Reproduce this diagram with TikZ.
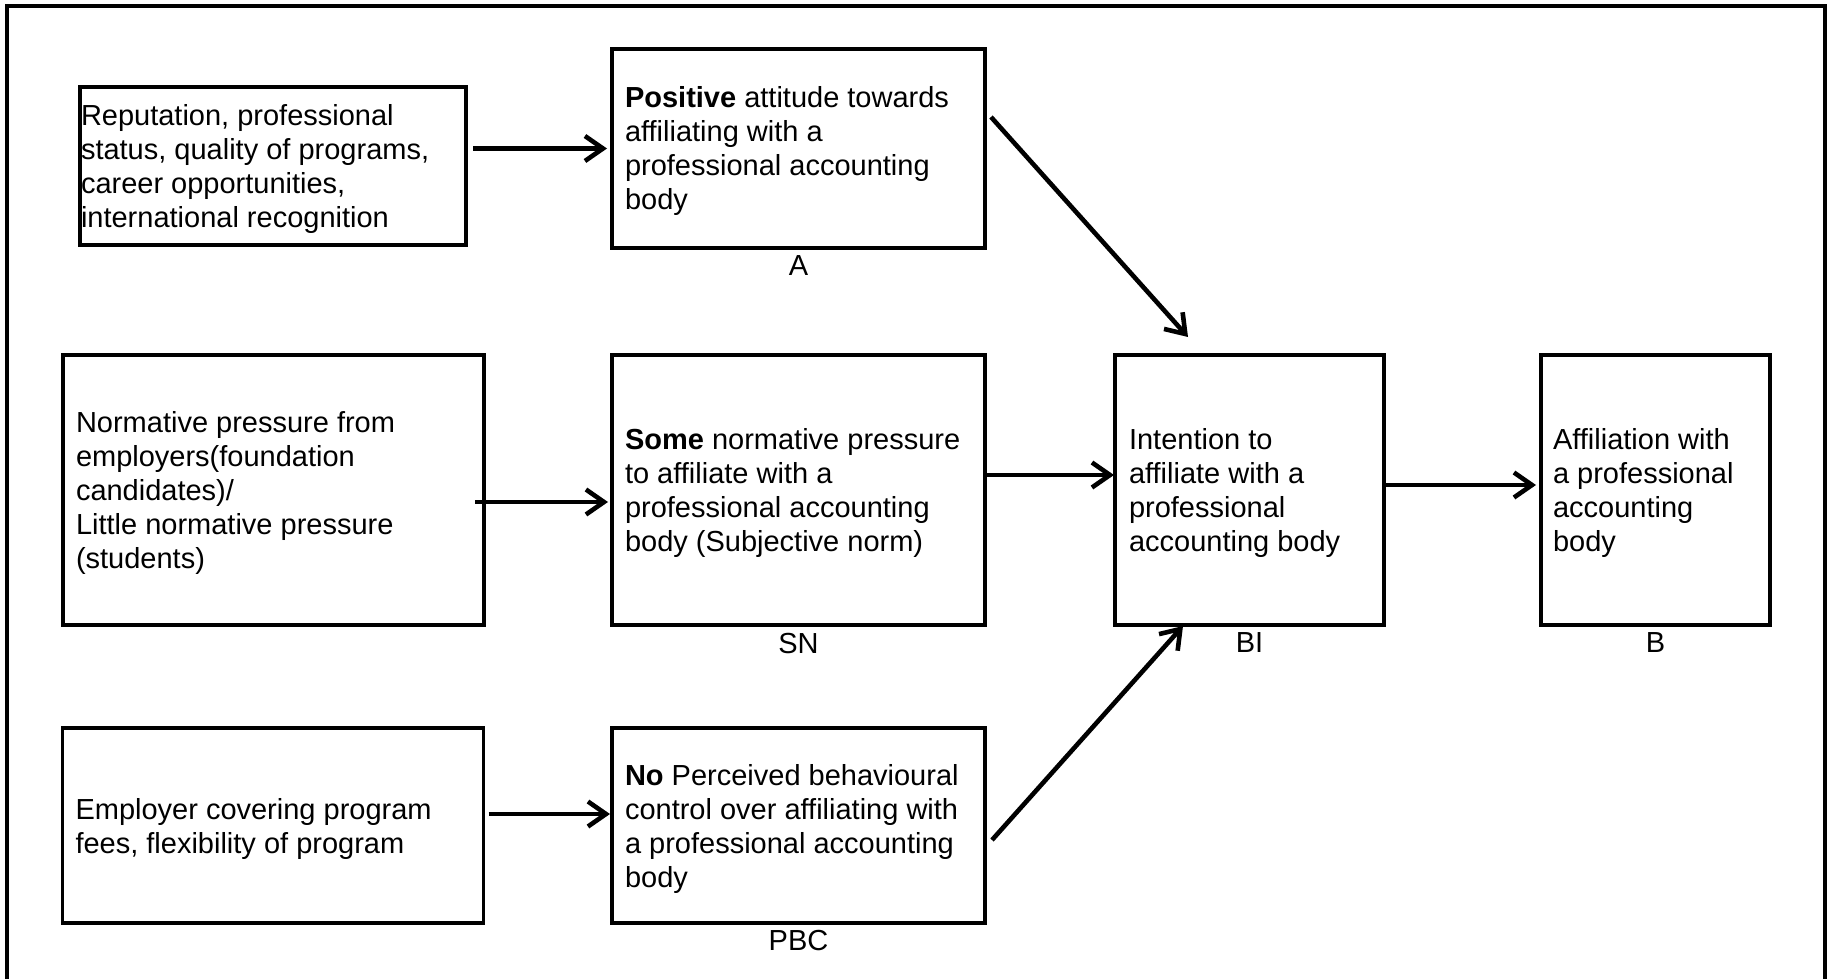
\documentclass[tikz,border=0pt]{standalone}
\usepackage{fontspec}
\setmainfont{Liberation Sans}
\usetikzlibrary{arrows.meta}
\begin{document}
\begin{tikzpicture}[x=1pt, y=-1pt,
  box/.style n args={2}{draw, line width=3.5pt, inner sep=0pt, outer sep=0pt,
    minimum width=#1pt, minimum height=#2pt},
  txt/.style={inner sep=0pt, outer sep=0pt, align=left,
    font=\fontsize{29pt}{34pt}\selectfont},
  lab/.style={inner sep=0pt, font=\fontsize{29pt}{34pt}\selectfont},
  arr/.style={line width=4.6pt, -{Straight Barb[length=18pt, width=25pt]}}]
\useasboundingbox (0,0) rectangle (1828,979);

% outer frame
\draw[line width=3.2pt] (7,995) -- (7,6) -- (1825,6) -- (1825,995);

% boxes
\node[box={386}{158}] (r1)  at (273,166)   {};
\node[box={373}{199}] (a)   at (798.5,148.5) {};
\node[box={421}{270}] (n1)  at (273.5,490) {};
\node[box={373}{270}] (sn)  at (798.5,490) {};
\node[box={421}{195}] (e1)  at (273,825.5) {};
\node[box={373}{195}] (pbc) at (798.5,825.5) {};
\node[box={269}{270}] (bi)  at (1249.5,490) {};
\node[box={229}{270}] (b)   at (1655.5,490) {};

% box texts
\node[txt, anchor=west] (r1t) at ([shift={(1,3)}]r1.west)
  {Reputation, professional\\status, quality of programs,\\career opportunities,\\international recognition};
\node[txt, anchor=west] (at) at ([shift={(13,3)}]a.west)
  {\textbf{Positive} attitude towards\\affiliating with a\\professional accounting\\body};
\node[txt, anchor=west] (n1t) at ([shift={(13,3)}]n1.west)
  {Normative pressure from\\employers(foundation\\candidates)/\\Little normative pressure\\(students)};
\node[txt, anchor=west] (snt) at ([shift={(13,3)}]sn.west)
  {\textbf{Some} normative pressure\\to affiliate with a\\professional accounting\\body (Subjective norm)};
\node[txt, anchor=west] (e1t) at ([shift={(13,3)}]e1.west)
  {Employer covering program\\fees, flexibility of program};
\node[txt, anchor=west] (pbct) at ([shift={(13,3)}]pbc.west)
  {\textbf{No} Perceived behavioural\\control over affiliating with\\a professional accounting\\body};
\node[txt, anchor=west] (bit) at ([shift={(14,3)}]bi.west)
  {Intention to\\affiliate with a\\professional\\accounting body};
\node[txt, anchor=west] (bt) at ([shift={(12,3)}]b.west)
  {Affiliation with\\a professional\\accounting\\body};

% construct labels
\node[lab, anchor=base] (la)   at ([shift={(0,27)}]a.south)   {A};
\node[lab, anchor=base] (lsn)  at ([shift={(0,28)}]sn.south)  {SN};
\node[lab, anchor=base] (lbi)  at ([shift={(0,27)}]bi.south)  {BI};
\node[lab, anchor=base] (lb)   at ([shift={(0,27)}]b.south)   {B};
\node[lab, anchor=base] (lpbc) at ([shift={(0,27)}]pbc.south) {PBC};

% connectors
\draw[arr] ([shift={(7,-17.5)}]r1.east) -- ([shift={(-5,0)}]a.west);
\draw[arr] ([shift={(-9,12)}]n1.east) -- ([shift={(-4,12)}]sn.west);
\draw[arr] ([shift={(5,-11.5)}]e1.east) -- ([shift={(-2,-11.5)}]pbc.west);
\draw[arr] ([shift={(0,-15)}]sn.east) -- ([shift={(-1,-15)}]bi.west);
\draw[arr] ([shift={(0,-5)}]bi.east) -- ([shift={(-5,-5)}]b.west);
\draw[arr] ([shift={(6,-31.5)}]a.east) -- ([shift={(-61.5,-18)}]bi.north);
\draw[arr] ([shift={(7,14.5)}]pbc.east) -- ([shift={(-66.5,1)}]bi.south);
\end{tikzpicture}
\end{document}
